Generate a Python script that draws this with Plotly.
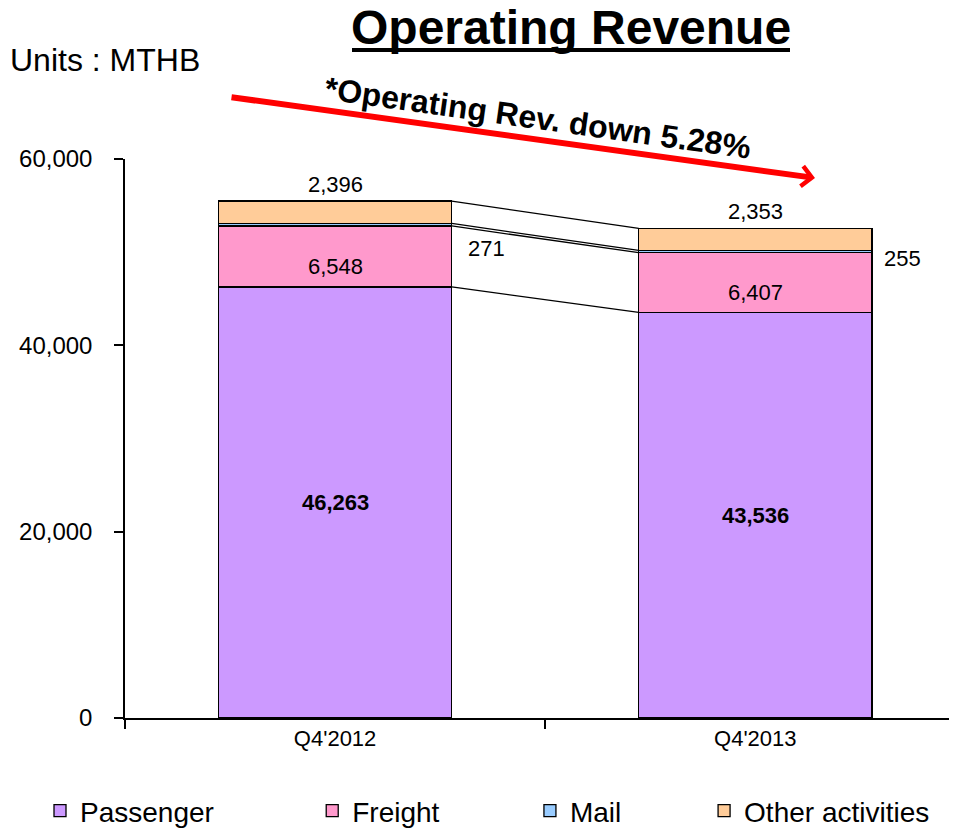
import plotly.graph_objects as go

categories = ["Q4'2012", "Q4'2013"]
passenger = [46263, 43536]
freight = [6548, 6407]
mail = [271, 255]
other = [2396, 2353]
series_names = ["Passenger", "Freight", "Mail", "Other activities"]
series_colors = ["#CC99FF", "#FF99CC", "#99CCFF", "#FFCC99"]
y_ticks = [0, 20000, 40000, 60000]

FONT = "Arial, Liberation Sans, sans-serif"
BAR_W = 0.555
NB = "\u00a0"
legend_pad = [12, 11, 10, 0]

fig = go.Figure()
for name, vals, col, pad in zip(series_names, [passenger, freight, mail, other], series_colors, legend_pad):
    fig.add_trace(go.Bar(
        x=categories, y=vals, name=name + NB * pad,
        marker=dict(color=col, line=dict(color="black", width=1.3)),
        width=BAR_W,
    ))

stacks = [passenger, freight, mail, other]
cum = []
run = [0, 0]
for s in stacks:
    run = [run[i] + s[i] for i in range(2)]
    cum.append(list(run))

shapes = []
for c in cum:
    shapes.append(dict(type="line", xref="x", yref="y",
                       x0=0 + BAR_W / 2, y0=c[0], x1=1 - BAR_W / 2, y1=c[1],
                       line=dict(color="black", width=1.3)))

# title underline
shapes.append(dict(type="line", xref="paper", yref="paper",
                   x0=(352 - 125) / 832, x1=(790 - 125) / 832,
                   y0=(718 - 50) / 559, y1=(718 - 50) / 559,
                   line=dict(color="black", width=4)))

annotations = []
for i in range(2):
    annotations.append(dict(x=i, y=passenger[i] / 2, xref="x", yref="y",
                            text="<b>{:,}</b>".format(passenger[i]), showarrow=False,
                            font=dict(family=FONT, size=22, color="black")))
    annotations.append(dict(x=i, y=passenger[i] + freight[i] / 2, xref="x", yref="y",
                            text="{:,}".format(freight[i]), showarrow=False, yshift=-10,
                            font=dict(family=FONT, size=22, color="black")))
    annotations.append(dict(x=i + BAR_W / 2, y=passenger[i] + freight[i] + mail[i] / 2,
                            xref="x", yref="y", xanchor="left",
                            text="{:,}".format(mail[i]), showarrow=False,
                            xshift=[14, 10][i], yshift=[-24, -7][i],
                            font=dict(family=FONT, size=22, color="black")))
    annotations.append(dict(x=i, y=cum[3][i], xref="x", yref="y", yanchor="bottom",
                            text="{:,}".format(other[i]), showarrow=False, yshift=2,
                            font=dict(family=FONT, size=22, color="black")))

annotations.append(dict(x=(571 - 125) / 832, y=(718 - 28) / 559, xref="paper", yref="paper",
                        xanchor="center", yanchor="middle",
                        text="<b>Operating Revenue</b>", showarrow=False,
                        font=dict(family=FONT, size=48, color="black")))
annotations.append(dict(x=(8 - 125) / 832, y=(718 - 60) / 559, xref="paper", yref="paper",
                        xanchor="left", yanchor="middle", text="Units : MTHB", showarrow=False,
                        font=dict(family=FONT, size=32, color="black")))
annotations.append(dict(x=(815 - 125) / 832, y=(718 - 178) / 559, xref="paper", yref="paper",
                        ax=-585, ay=-81, axref="pixel", ayref="pixel",
                        showarrow=True, arrowhead=4, arrowsize=0.65, arrowwidth=6,
                        arrowcolor="#FF0000", text=""))
annotations.append(dict(x=(538 - 125) / 832, y=(718 - 118) / 559, xref="paper", yref="paper",
                        xanchor="center", yanchor="middle",
                        text="<b>*Operating Rev. down 5.28%</b>", showarrow=False, textangle=8,
                        font=dict(family=FONT, size=32, color="black")))

fig.update_layout(
    barmode="stack",
    width=949, height=820,
    margin=dict(l=117, r=0, t=151, b=110, autoexpand=False),
    paper_bgcolor="white", plot_bgcolor="white",
    font=dict(family=FONT, color="black"),
    showlegend=True,
    legend=dict(orientation="h", x=(40 - 125) / 832, y=(718 - 811) / 559,
                xanchor="left", yanchor="middle",
                font=dict(family=FONT, size=28, color="black"),
                traceorder="normal", itemclick=False),
    shapes=shapes, annotations=annotations,
    xaxis=dict(type="category", range=[-0.5, 1.48], tickson="boundaries",
               ticks="outside", ticklen=9, tickcolor="black", tickwidth=1.5,
               showline=True, linecolor="black", linewidth=2,
               tickfont=dict(family=FONT, size=22, color="black"),
               showgrid=False, fixedrange=True),
    yaxis=dict(range=[0, 60000], tickvals=y_ticks, tickformat=",",
               ticks="outside", ticklen=9, tickcolor="black", tickwidth=1.5,
               showline=True, linecolor="black", linewidth=1.5,
               tickfont=dict(family=FONT, size=24, color="black"),
               showgrid=False, zeroline=False, ticklabelstandoff=17),
)

fig.write_html("out.html")
